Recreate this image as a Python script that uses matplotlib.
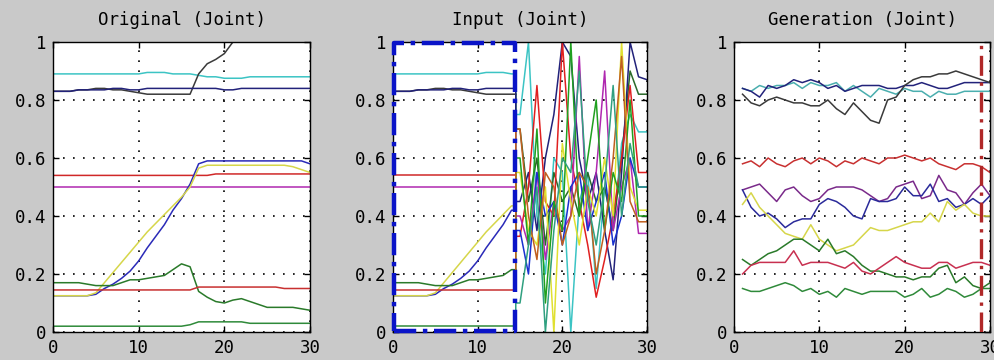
import matplotlib
matplotlib.use("Agg")
import matplotlib.pyplot as plt
import numpy as np

# ---------------- data ----------------
t_orig = list(range(0, 31))
t_noise = list(range(15, 31))
t_gen = list(range(1, 31))

orig_black = [.83, .83, .83, .835, .835, .84, .84, .835, .835, .83, .825, .82, .82, .82, .82, .82,
              .82, .89, .925, .94, .96, 1.0, 1.0, 1.0, 1.0, 1.0, 1.0, 1.0, 1.0, 1.0, 1.0]
orig_navy = [.83, .83, .83, .835, .835, .835, .835, .84, .84, .835, .835, .84, .84, .84, .84, .84,
             .84, .84, .84, .84, .835, .835, .84, .84, .84, .84, .84, .84, .84, .84, .84]
orig_cyan = [.89, .89, .89, .89, .89, .89, .89, .89, .89, .89, .89, .895, .895, .895, .89, .89,
             .89, .885, .88, .88, .875, .875, .875, .88, .88, .88, .88, .88, .88, .88, .88]
orig_blue = [.125, .125, .125, .125, .125, .13, .15, .165, .185, .21, .245, .29, .33, .37, .42, .46,
             .51, .58, .59, .59, .59, .59, .59, .59, .59, .59, .59, .59, .59, .59, .58]
orig_yellow = [.125, .125, .125, .125, .125, .135, .17, .205, .24, .275, .31, .345, .375, .405, .435, .465,
               .5, .565, .575, .575, .575, .575, .575, .575, .575, .575, .575, .575, .57, .56, .55]
orig_red = [.54] * 19 + [.545] * 12
orig_magenta = [.50] * 31
orig_green = [.17, .17, .17, .17, .165, .16, .16, .16, .17, .18, .18, .185, .19, .195, .215, .235,
              .225, .14, .12, .105, .10, .11, .115, .105, .095, .085, .085, .085, .085, .08, .075]
orig_red2 = [.145] * 17 + [.155] * 10 + [.15] * 4
orig_green2 = [.02] * 16 + [.025] + [.035] * 6 + [.03] * 8

# input: the original values up to t=14, then these values for t=15..30
noise_navy = [.45, .55, .35, .6, .75, 1.0, .95, .6, .45, .55, .35, .18, .55, 1.0, .88, .87]
noise_black = [.7, .45, .6, .3, .55, .45, .5, .4, .55, .45, .5, .35, .6, .9, .82, .82]
noise_cyan = [.75, 1.0, .4, .2, .6, .55, 0.0, .45, .55, .15, .5, .35, .65, .75, .69, .69]
noise_blue = [.35, .2, .55, .4, .45, .3, .5, .55, .35, .45, .55, .3, .4, .6, .5, .5]
noise_yellow = [.55, .35, .3, .5, 0.0, .65, .45, .3, .5, .4, .6, .4, 1.0, .5, .42, .42]
noise_red = [.33, .5, .85, .45, .4, 1.0, .6, .45, .3, .12, .25, .4, .6, .85, .55, .55]
noise_magenta = [.4, .3, .55, .25, .45, .35, .4, .95, .35, .55, .9, .35, .5, .6, .34, .34]
noise_green = [.6, .3, .7, .1, .45, .35, 1.0, .4, .6, .8, .35, .55, .45, .8, .4, .4]
noise_red2 = [.7, .4, .25, .55, .5, .3, .4, .55, .5, .2, .35, .6, .95, .45, .38, .38]
noise_green2 = [.1, .3, .5, 0.0, .35, .6, .55, .9, .45, .3, .5, .85, .4, .65, .5, .5]

gen_black = [.82, .79, .78, .80, .81, .80, .79, .79, .78, .78, .80, .77, .75, .79, .76, .73, .72, .80, .81,
             .85, .87, .88, .88, .89, .89, .90, .89, .88, .87, .86]
gen_navy = [.84, .83, .81, .85, .84, .85, .87, .86, .87, .86, .84, .85, .83, .84, .85, .85, .85, .84, .84,
            .85, .85, .86, .85, .84, .84, .85, .86, .86, .86, .86]
gen_cyan = [.84, .83, .85, .84, .85, .85, .86, .84, .86, .85, .85, .86, .83, .85, .83, .81, .84, .83, .82,
            .84, .83, .83, .81, .83, .82, .82, .83, .83, .83, .83]
gen_red = [.58, .59, .57, .60, .58, .57, .59, .60, .58, .60, .59, .57, .59, .58, .60, .59, .58, .60, .60,
           .61, .60, .59, .60, .58, .57, .56, .58, .58, .57, .55]
gen_magenta = [.49, .50, .51, .48, .45, .49, .50, .47, .45, .46, .49, .50, .50, .50, .49, .47, .45, .46,
               .50, .51, .52, .46, .47, .54, .49, .48, .44, .48, .51, .47]
gen_blue = [.49, .43, .40, .41, .39, .36, .38, .39, .39, .44, .46, .45, .43, .40, .39, .46, .45, .45, .46,
            .50, .47, .47, .51, .45, .46, .43, .44, .46, .44, .47]
gen_yellow = [.44, .48, .43, .40, .37, .34, .33, .32, .37, .32, .30, .28, .29, .30, .33, .36, .35, .35,
              .36, .37, .38, .38, .41, .38, .45, .42, .44, .41, .40, .40]
gen_green = [.25, .23, .25, .27, .28, .30, .32, .32, .30, .28, .32, .27, .28, .26, .23, .21, .21, .20,
             .19, .19, .18, .19, .19, .22, .23, .17, .19, .16, .15, .17]
gen_red2 = [.20, .23, .24, .24, .24, .24, .28, .23, .24, .24, .24, .23, .22, .24, .21, .20, .22, .24,
            .26, .24, .23, .22, .22, .24, .24, .22, .23, .24, .24, .23]
gen_green2 = [.15, .14, .14, .15, .16, .17, .16, .14, .15, .13, .14, .12, .15, .14, .13, .14, .14, .14,
              .14, .12, .13, .15, .12, .13, .15, .14, .12, .13, .15, .15]

titles = ["Original (Joint)", "Input (Joint)", "Generation (Joint)"]
xticks = [0, 10, 20, 30]
yticks = [0, 0.2, 0.4, 0.6, 0.8, 1]
ytick_labels = ["0", "0.2", "0.4", "0.6", "0.8", "1"]
input_split = 14.5
input_box_end = 14.45
gen_marker = 28.9

# ---------------- styling ----------------
c_black = "#3a3a3a"
c_navy = "#22227a"
c_cyan = "#3cc4c4"
c_blue = "#2a2ab8"
c_yellow = "#d6d64a"
c_red = "#d02828"
c_magenta = "#b028b0"
c_green = "#2a7a2a"
c_red2 = "#c83030"
c_green2 = "#2f8a3a"

orig_series = [(orig_cyan, c_cyan), (orig_black, c_black), (orig_navy, c_navy),
               (orig_red, c_red), (orig_magenta, c_magenta),
               (orig_blue, c_blue), (orig_yellow, c_yellow),
               (orig_green, c_green), (orig_red2, c_red2), (orig_green2, c_green2)]
noise_series = [noise_cyan, noise_black, noise_navy, noise_red, noise_magenta,
                noise_blue, noise_yellow, noise_green, noise_red2, noise_green2]
noise_colors = [c_cyan, "#2a6a2a", c_navy, "#e02020", c_magenta,
                "#1830d0", "#e0e030", "#20a020", "#c06020", "#30a080"]
gen_series = [(gen_cyan, "#4aaeae"), (gen_navy, c_navy), (gen_black, c_black),
              (gen_red, c_red2), (gen_magenta, "#7a2a8a"), (gen_blue, "#2a2a9a"),
              (gen_yellow, c_yellow), (gen_green, c_green), (gen_red2, "#c83050"),
              (gen_green2, c_green2)]

plt.rcParams['font.family'] = ['DejaVu Sans Mono', 'DejaVu Sans']
fig = plt.figure(figsize=(9.94, 3.6), dpi=100, facecolor="#c9c9c9")

positions = [[53 / 994, 28 / 360, 257 / 994, 290 / 360],
             [393 / 994, 28 / 360, 254 / 994, 290 / 360],
             [734 / 994, 28 / 360, 256 / 994, 290 / 360]]

axes = [fig.add_axes(p) for p in positions]
for ax, title in zip(axes, titles):
    ax.set_facecolor("white")
    ax.set_xlim(0, 30)
    ax.set_ylim(0, 1)
    ax.set_xticks(xticks)
    ax.set_yticks(yticks)
    ax.set_yticklabels(ytick_labels)
    ax.tick_params(direction="in", length=4, width=1, top=True, right=True,
                   labelsize=12.5, pad=5, colors="black")
    ax.grid(True, color="black", linestyle=(0, (1, 5)), linewidth=1.2)
    for s in ax.spines.values():
        s.set_linewidth(1.0)
        s.set_color("black")
    ax.set_title(title, fontsize=12.5, pad=12)

# Original
ax = axes[0]
for vals, col in orig_series:
    ax.plot(t_orig, vals, color=col, lw=1.1)

# Input
ax = axes[1]
for (vals, col), nvals, ncol in zip(orig_series, noise_series, noise_colors):
    ax.plot(t_orig[:15] + [input_split], vals[:15] + [vals[14]], color=col, lw=1.1)
    ax.plot([input_split] * 2 + t_noise, [vals[14], nvals[0]] + nvals, color=ncol, lw=1.1)
ax.plot([0.15, input_box_end, input_box_end, 0.15, 0.15],
        [0.005, 0.005, 0.995, 0.995, 0.005],
        color="#0a14c8", lw=3.2, linestyle=(0, (5, 1.5, 1, 1.5)), clip_on=False, zorder=5)

# Generation
ax = axes[2]
for vals, col in gen_series:
    ax.plot(t_gen, vals, color=col, lw=1.1)
ax.axvline(gen_marker, color="#b02828", lw=2.4, linestyle=(0, (6, 2, 1, 2)), zorder=5)

fig.savefig("out.png", dpi=100, facecolor=fig.get_facecolor())
